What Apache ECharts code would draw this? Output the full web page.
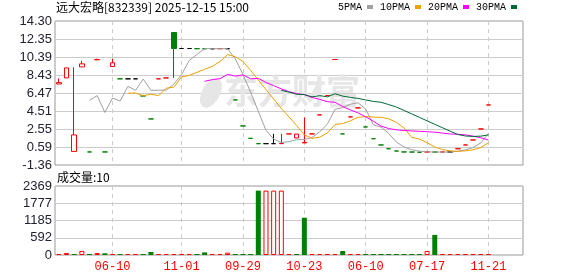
<!DOCTYPE html>
<html><head><meta charset="utf-8">
<script src="https://cdn.jsdelivr.net/npm/echarts@6/dist/echarts.min.js"></script>
<style>html,body{margin:0;padding:0;background:#fff}#c{width:578px;height:276px}</style>
</head><body><div id="c"></div>
<script>
const titleText = '远大宏略[832339] 2025-12-15 15:00';
const volumeTitle = '成交量:10';
const maNames = ['5PMA', '10PMA', '20PMA', '30PMA'];
const maDays = [5, 10, 20, 30];
const openP  = [7.45, 8.11, 0.12, 9.31, 0.06, 10.08, 0.06, 9.35, 8.01, 8.01, 8.01, 6.15, 3.65, 8.01, 8.11, 13.05, 11.31, 11.31, 11.29, 11.28, 11.28, 11.29, 11.29, 5.72, 2.89, 1.54, 0.96, 0.96, 0.96, 0.96, 2.02, 1.58, 1.04, 2.02, 4.09, 6.19, 10.11, 2.02, 3.87, 4.85, 2.78, 1.50, 0.82, 0.41, 0.16, 0.06, 0.05, 0.03, 0.06, 0.05, 0.06, 0.06, 0.41, 0.82, 1.36, 2.56, 5.17];
const closeP = [7.60, 9.20, 1.91, 9.64, 0.06, 10.11, 0.06, 9.75, 8.01, 8.01, 8.01, 6.15, 3.65, 8.01, 8.11, 11.31, 11.31, 11.31, 11.29, 11.28, 11.28, 11.29, 11.29, 5.72, 2.89, 1.54, 0.96, 0.96, 0.96, 0.99, 2.02, 2.00, 1.10, 2.02, 4.09, 6.19, 10.11, 2.02, 3.87, 4.85, 2.78, 1.50, 0.82, 0.41, 0.16, 0.06, 0.05, 0.03, 0.06, 0.05, 0.06, 0.06, 0.41, 0.82, 1.36, 2.56, 5.17];
const lowP   = [7.45, 8.11, 0.12, 9.31, 0.06, 10.08, 0.06, 9.35, 8.01, 8.01, 8.01, 6.15, 3.65, 8.01, 8.11, 8.11, 11.31, 11.31, 11.29, 11.28, 11.28, 11.29, 11.29, 5.72, 2.89, 1.54, 0.96, 0.96, 0.96, 0.96, 2.02, 1.58, 1.04, 2.02, 4.09, 6.19, 10.11, 2.02, 3.87, 4.85, 2.78, 1.50, 0.82, 0.41, 0.16, 0.06, 0.05, 0.03, 0.06, 0.05, 0.06, 0.06, 0.41, 0.82, 1.36, 2.56, 5.17];
const highP  = [8.05, 9.20, 9.27, 9.97, 0.06, 10.20, 0.06, 10.22, 8.01, 8.01, 8.01, 6.15, 3.65, 8.01, 8.11, 13.05, 11.31, 11.31, 11.29, 11.28, 11.28, 11.29, 11.29, 5.72, 2.89, 1.54, 0.96, 0.96, 2.02, 2.02, 2.02, 2.00, 3.82, 2.02, 4.09, 6.19, 10.11, 2.02, 3.87, 4.85, 2.78, 1.50, 0.82, 0.41, 0.16, 0.06, 0.05, 0.03, 0.06, 0.05, 0.06, 0.06, 0.41, 0.82, 1.36, 2.56, 5.17];
const volume = [35, 70, 35, 140, 35, 70, 60, 35, 35, 35, 35, 35, 105, 35, 35, 35, 35, 35, 35, 90, 35, 35, 80, 35, 35, 35, 2210, 2210, 2210, 2210, 35, 35, 1280, 35, 35, 35, 35, 137, 35, 35, 35, 35, 35, 35, 35, 35, 35, 35, 137, 690, 35, 35, 35, 35, 35, 35, 10];
const slotCount = 61;
const dateLabelIndex = [7, 16, 24, 32, 40, 48, 56];
const dateLabels = ['06-10', '11-01', '09-29', '10-23', '06-10', '07-17', '11-21'];
const priceTicks = ['-1.36', '0.59', '2.55', '4.51', '6.47', '8.43', '10.39', '12.35', '14.30'];
const volumeTicks = ['0', '592', '1185', '1777', '2369'];
const priceMin = -1.36, priceMax = 14.30;
const volumeMax = 2369;

const RED = '#ff0000', GREEN = '#008000', BLACK = '#000000';
const maColors = ['#a0a0a0', '#f0a000', '#ff00ff', '#006a34'];
const priceStep = (priceMax - priceMin) / 8;
const volStep = volumeMax / 4;

const cats = [];
for (let i = 0; i < slotCount; i++) cats.push(String(i));

function candleColor(i) {
  if (closeP[i] > openP[i]) return 'up';
  if (closeP[i] < openP[i]) return 'down';
  if (i === 0) return 'up';
  if (closeP[i] > closeP[i - 1]) return 'up';
  if (closeP[i] < closeP[i - 1]) return 'down';
  return 'flat';
}
const off = v => +(v - priceMin).toFixed(4);
const candleData = openP.map((o, i) => {
  const t = candleColor(i);
  const c = t === 'up' ? RED : t === 'down' ? GREEN : BLACK;
  const fill = t === 'up' ? '#ffffff' : c;
  return {
    value: [off(o), off(closeP[i]), off(lowP[i]), off(highP[i])],
    itemStyle: { color: fill, color0: fill, borderColor: c, borderColor0: c }
  };
});
const volData = volume.map((v, i) => {
  const up = i === 0 || closeP[i] >= closeP[i - 1];
  return {
    value: v,
    itemStyle: up ? { color: '#ffffff', borderColor: RED, borderWidth: 1 } : { color: GREEN, borderColor: GREEN, borderWidth: 0 }
  };
});
function ma(n) {
  const r = [];
  for (let i = 0; i < closeP.length; i++) {
    if (i < n - 1) { r.push(null); continue; }
    let s = 0;
    for (let j = i - n + 1; j <= i; j++) s += closeP[j];
    r.push(off(s / n));
  }
  return r;
}
const showIdx = (idx) => dateLabelIndex.indexOf(idx) >= 0;
const splitX = { show: true, interval: showIdx, alignWithLabel: true, lineStyle: { color: '#cccccc', type: [4, 4], width: 1 } };
const splitY = { show: true, lineStyle: { color: '#cccccc', width: 1 } };

const chart = echarts.init(document.getElementById('c'), null, { renderer: 'canvas' });
chart.setOption({
  animation: false,
  backgroundColor: '#ffffff',
  title: [
    { text: titleText, left: 56, top: 1, padding: 0, textStyle: { fontSize: 12, fontWeight: 'normal', color: '#000', fontFamily: 'Noto Sans CJK SC' } },
    { text: volumeTitle, left: 57, top: 171, padding: 0, textStyle: { fontSize: 12, fontWeight: 'normal', color: '#000', fontFamily: 'Noto Sans CJK SC' } }
  ],
  legend: {
    data: maNames, left: 338, top: 2, padding: 0, align: 'right', icon: 'rect',
    itemWidth: 6, itemHeight: 4, itemGap: 7, selectedMode: false,
    textStyle: { fontSize: 10, color: '#000', fontFamily: 'Liberation Mono', padding: [0, 0, 0, 0] }
  },
  graphic: [
    { type: 'text', left: 224, top: 74, z: 1, silent: true,
      style: { text: '东方财富', fill: '#e6e6e6', font: 'bold 34px "Noto Sans CJK SC"' } },
    { type: 'ellipse', shape: { cx: 211, cy: 93, rx: 9, ry: 16 }, rotation: -0.5, originX: 211, originY: 93, z: 1, silent: true,
      style: { fill: '#e6e6e6' } }
  ],
  grid: [
    { left: 55, right: 55, top: 21, height: 144, show: true, borderColor: '#999999', borderWidth: 1, backgroundColor: 'transparent' },
    { left: 55, right: 55, top: 186, height: 69, show: true, borderColor: '#999999', borderWidth: 1, backgroundColor: 'transparent' }
  ],
  xAxis: [
    { type: 'category', gridIndex: 0, data: cats, boundaryGap: true,
      axisLine: { show: false }, axisTick: { show: false }, axisLabel: { show: false }, splitLine: splitX },
    { type: 'category', gridIndex: 1, data: cats, boundaryGap: true,
      axisLine: { show: false }, axisTick: { show: false, alignWithLabel: true, interval: showIdx },
      axisLabel: { show: true, interval: showIdx, color: RED, fontSize: 12, fontFamily: 'Liberation Mono', margin: 6,
        formatter: (v) => { const k = dateLabelIndex.indexOf(+v); return k >= 0 ? dateLabels[k] : ''; } },
      splitLine: splitX }
  ],
  yAxis: [
    { type: 'value', gridIndex: 0, min: 0, max: off(priceMax), interval: priceStep, scale: false,
      axisLine: { show: false }, axisTick: { show: false }, splitLine: splitY,
      axisLabel: { color: '#222233', fontSize: 13, fontFamily: 'Liberation Sans', margin: 3,
        formatter: (v) => priceTicks[Math.round(v / priceStep)] } },
    { type: 'value', gridIndex: 1, min: 0, max: volumeMax, interval: volStep,
      axisLine: { show: false }, axisTick: { show: false }, splitLine: splitY,
      axisLabel: { color: '#222233', fontSize: 13, fontFamily: 'Liberation Sans', margin: 3,
        formatter: (v) => volumeTicks[Math.round(v / volStep)] } }
  ],
  series: [
    { type: 'candlestick', name: 'K', xAxisIndex: 0, yAxisIndex: 0, data: candleData, barWidth: 5,
      itemStyle: { borderWidth: 1 } },
    ...maNames.map((n, k) => ({
      type: 'line', name: n, xAxisIndex: 0, yAxisIndex: 0, data: ma(maDays[k]), symbol: 'none', showSymbol: false,
      lineStyle: { color: maColors[k], width: 1 }, itemStyle: { color: maColors[k] }, z: 3
    })),
    { type: 'bar', name: 'VOL', xAxisIndex: 1, yAxisIndex: 1, data: volData, barWidth: 5, barMinHeight: 1 }
  ]
});
</script></body></html>
